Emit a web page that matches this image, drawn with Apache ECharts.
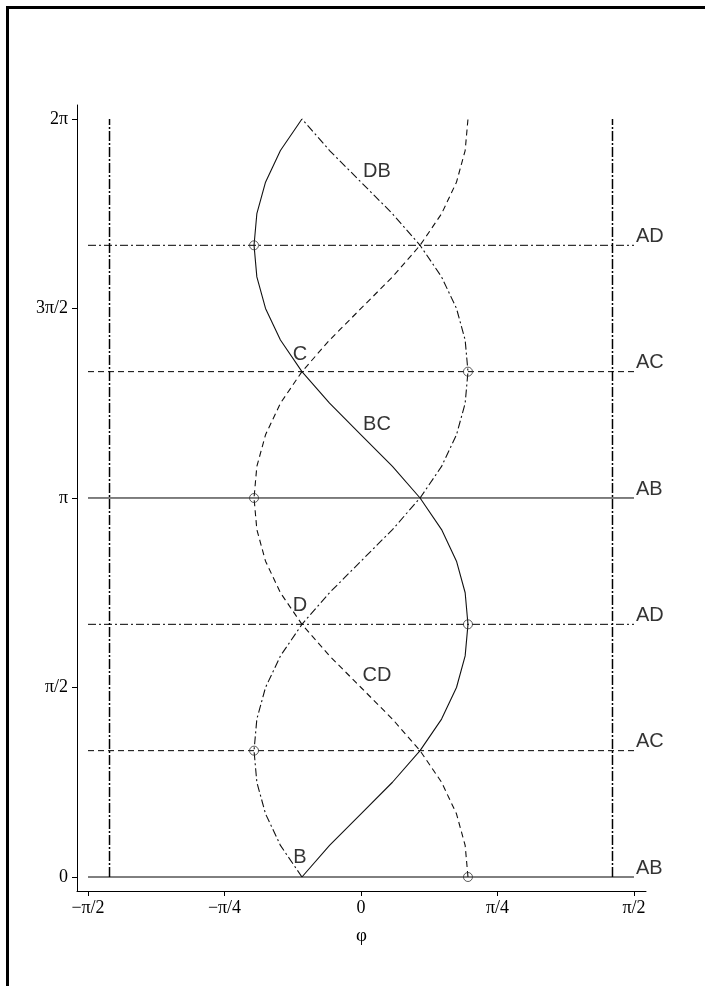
<!DOCTYPE html>
<html>
<head>
<meta charset="utf-8">
<script src="https://cdn.jsdelivr.net/npm/echarts@6/dist/echarts.min.js"></script>
<style>html,body{margin:0;padding:0;background:#fff}#c{width:705px;height:986px}</style>
</head>
<body>
<div id="c"></div>
<script>
// theta samples (rad), every 15 degrees from 0 to 2*pi
const theta = [0,0.2618,0.5236,0.7854,1.0472,1.3090,1.5708,1.8326,2.0944,2.3562,2.6180,2.8798,3.1416,3.4034,3.6652,3.9270,4.1888,4.4506,4.7124,4.9742,5.2360,5.4978,5.7596,6.0214,6.2832];
// curve CD (dashed), through C and D
const phiCD = [0.6155,0.5993,0.5494,0.4636,0.3398,0.1810,0,-0.1810,-0.3398,-0.4636,-0.5494,-0.5993,-0.6155,-0.5993,-0.5494,-0.4636,-0.3398,-0.1810,0,0.1810,0.3398,0.4636,0.5494,0.5993,0.6155];
// curve BC (solid), through B and C
const phiBC = [-0.3398,-0.1810,0,0.1810,0.3398,0.4636,0.5494,0.5993,0.6155,0.5993,0.5494,0.4636,0.3398,0.1810,0,-0.1810,-0.3398,-0.4636,-0.5494,-0.5993,-0.6155,-0.5993,-0.5494,-0.4636,-0.3398];
// curve DB (dash-dot), through D and B
const phiDB = [-0.3398,-0.4636,-0.5494,-0.5993,-0.6155,-0.5993,-0.5494,-0.4636,-0.3398,-0.1810,0,0.1810,0.3398,0.4636,0.5494,0.5993,0.6155,0.5993,0.5494,0.4636,0.3398,0.1810,0,-0.1810,-0.3398];

// horizontal lines (A-edges)
const hTheta = [0,1.0472,2.0944,3.1416,4.1888,5.2360];
const hNames = ['AB','AC','AD','AB','AC','AD'];
const hPhiRange = [-1.5708,1.5708];
// vertical dash-dot lines
const vPhi = [-1.447,1.447];
const vThetaRange = [0,6.2832];
// open circle markers
const mPhi = [0.6155,-0.6155,0.6155,-0.6155,0.6155,-0.6155];
const mTheta = [0,1.0472,2.0944,3.1416,4.1888,5.2360];
// in-plot text labels
const tStr = ['DB','BC','CD','C','D','B'];
const tPhi = [0.092,0.092,0.092,-0.351,-0.351,-0.351];
const tTheta = [5.846,3.755,1.667,4.335,2.247,0.158];
// ticks
const xTicks = [-1.5708,-0.7854,0,0.7854,1.5708];
const xTickLabels = ['\u2212\u03c0/2','\u2212\u03c0/4','0','\u03c0/4','\u03c0/2'];
const yTicks = [0,1.5708,3.1416,4.7124,6.2832];
const yTickLabels = ['0','\u03c0/2','\u03c0','3\u03c0/2','2\u03c0'];

const SOLID = 'solid', DASH = [6,4], DASHDOT = [8,3,2,3];
const styleFor = {AB: SOLID, AC: DASH, AD: DASHDOT};
const ink = '#111';

function pairs(xs, ys){ return xs.map((x,i)=>[x, ys[i]]); }
function lbl(arr, labels, v){ const i = arr.findIndex(t=>Math.abs(t-v)<1e-3); return i>=0?labels[i]:''; }

const series = [];
// curves
[[phiCD, DASH],[phiBC, SOLID],[phiDB, DASHDOT]].forEach(([p, t])=>{
  series.push({type:'line', data: pairs(p, theta), showSymbol:false, symbol:'none', silent:true,
    lineStyle:{color:ink, width:1.1, type:t}, z:3});
});
// horizontal lines
hTheta.forEach((th,i)=>{
  series.push({type:'line', data:[[hPhiRange[0],th],[hPhiRange[1],th]], symbol:'none', silent:true,
    lineStyle:{color:'#000', width:1, type: styleFor[hNames[i]]}, z:2});
});
// right labels
series.push({type:'scatter', symbolSize:1, itemStyle:{color:'rgba(0,0,0,0)'}, silent:true,
  data: hTheta.map((th,i)=>[hPhiRange[1], th, hNames[i]]),
  label:{show:true, position:'inside', align:'left', verticalAlign:'middle', offset:[2,-9],
    formatter:p=>p.data[2], fontFamily:'Liberation Sans, Arial', fontSize:20, color:'#000', textBorderWidth:0}, z:5});
// vertical lines
vPhi.forEach(x=>{
  series.push({type:'line', data:[[x,vThetaRange[0]],[x,vThetaRange[1]]], symbol:'none', silent:true,
    lineStyle:{color:'#000', width:1.5, type:[10,2,2,2]}, z:2});
});
// markers
series.push({type:'scatter', data: pairs(mPhi, mTheta), symbol:'circle', symbolSize:9, silent:true,
  itemStyle:{color:'rgba(255,255,255,0)', borderColor:'#333', borderWidth:1}, z:6});
// text labels
series.push({type:'scatter', symbolSize:1, itemStyle:{color:'rgba(0,0,0,0)'}, silent:true,
  data: tStr.map((s,i)=>[tPhi[i], tTheta[i], s]),
  label:{show:true, position:'inside', align:'center', verticalAlign:'middle',
    formatter:p=>p.data[2], fontFamily:'Liberation Sans, Arial', fontSize:20, color:'#000', textBorderWidth:0}, z:7});

const serif = 'Liberation Serif, Times New Roman, serif';
const chart = echarts.init(document.getElementById('c'), null, {renderer:'canvas'});
chart.setOption({
  animation:false,
  backgroundColor:'#fff',
  grid:{left:77, right:59, top:105, bottom:95, containLabel:false},
  xAxis:{type:'value', min:-1.6341, max:1.6398, name:'\u03c6', nameLocation:'middle', nameGap:36,
    nameTextStyle:{fontFamily:serif, fontSize:19, color:'#000'},
    axisLine:{show:true, onZero:false, lineStyle:{color:'#000', width:1}},
    axisTick:{show:true, length:5, lineStyle:{color:'#000'}, customValues:xTicks},
    axisLabel:{show:true, margin:8, fontFamily:serif, fontSize:18, color:'#000', customValues:xTicks,
      formatter:v=>lbl(xTicks, xTickLabels, v)},
    splitLine:{show:false}},
  yAxis:{type:'value', min:-0.116, max:6.399,
    axisLine:{show:true, onZero:false, lineStyle:{color:'#000', width:1}},
    axisTick:{show:true, length:5, lineStyle:{color:'#000'}, customValues:yTicks},
    axisLabel:{show:true, margin:9, fontFamily:serif, fontSize:18, color:'#000', customValues:yTicks,
      formatter:v=>lbl(yTicks, yTickLabels, v)},
    splitLine:{show:false}},
  graphic:[{type:'rect', shape:{x:7.5, y:7.5, width:760, height:1050}, style:{fill:null, stroke:'#000', lineWidth:3}, silent:true}],
  series: series
});
</script>
</body>
</html>
